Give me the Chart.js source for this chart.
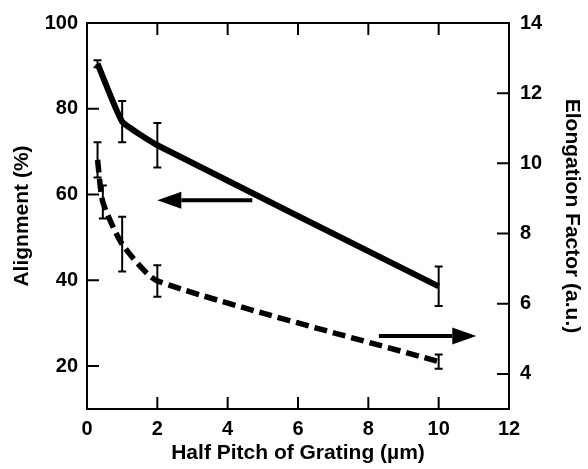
<!DOCTYPE html>
<html lang="en">
<head>
    <meta charset="UTF-8">
    <title>Alignment and Elongation vs Half Pitch</title>
    <script src="https://cdn.jsdelivr.net/npm/chart.js@4.4.1/dist/chart.umd.min.js"></script>
    <style>
        html, body { margin: 0; padding: 0; background: #fff; }
        .chart-box { width: 588px; height: 469px; position: relative; }
    </style>
</head>
<body>
    <div class="chart-box">
        <canvas id="pitchChart"></canvas>
    </div>

    <script>
        // values
        const alignPitch = [0.3, 1, 2, 10];
        const alignment = [90.5, 77, 71.5, 38.6];
        const alignmentErr = [0.8, 4.8, 5.2, 4.6];

        const elongPitch = [0.3, 0.45, 1, 2, 10];
        const elongation = [10.1, 8.9, 7.7, 6.65, 4.35];
        const elongationErr = [0.5, 0.47, 0.78, 0.45, 0.2];

        const xTicks = [0, 2, 4, 6, 8, 10, 12];
        const leftTicks = [20, 40, 60, 80, 100];
        const rightTicks = [4, 6, 8, 10, 12, 14];

        const FONT = "'Liberation Sans', Arial, Helvetica, sans-serif";

        // arrows pointing to the axis each curve belongs to (data units)
        const arrows = [
            { axis: 'y', from: [4.7, 58.7], to: [2.0, 58.7] },
            { axis: 'y2', from: [8.3, 5.08], to: [11.07, 5.08] }
        ];

        const toPoints = (xs, ys) => xs.map((x, i) => ({ x: x, y: ys[i] }));

        const figurePlugin = {
            id: 'figurePlugin',
            afterDatasetsDraw(chart) {
                const ctx = chart.ctx;
                const area = chart.chartArea;
                const sx = chart.scales.x;
                ctx.save();
                ctx.strokeStyle = '#000';
                ctx.fillStyle = '#000';

                // error bars
                const bars = [
                    { xs: alignPitch, ys: alignment, err: alignmentErr, scale: chart.scales.y },
                    { xs: elongPitch, ys: elongation, err: elongationErr, scale: chart.scales.y2 }
                ];
                ctx.lineWidth = 2;
                bars.forEach(b => {
                    b.xs.forEach((xv, i) => {
                        const px = sx.getPixelForValue(xv);
                        const top = b.scale.getPixelForValue(b.ys[i] + b.err[i]);
                        const bot = b.scale.getPixelForValue(b.ys[i] - b.err[i]);
                        ctx.beginPath();
                        ctx.moveTo(px, top); ctx.lineTo(px, bot);
                        ctx.moveTo(px - 4, top); ctx.lineTo(px + 4, top);
                        ctx.moveTo(px - 4, bot); ctx.lineTo(px + 4, bot);
                        ctx.stroke();
                    });
                });

                // arrows
                arrows.forEach(a => {
                    const sc = chart.scales[a.axis];
                    const x1 = sx.getPixelForValue(a.from[0]);
                    const x2 = sx.getPixelForValue(a.to[0]);
                    const py = sc.getPixelForValue(a.from[1]);
                    const dir = Math.sign(x2 - x1);
                    const headLen = 24;
                    ctx.lineWidth = 4;
                    ctx.beginPath();
                    ctx.moveTo(x1, py);
                    ctx.lineTo(x2 - dir * headLen, py);
                    ctx.stroke();
                    ctx.beginPath();
                    ctx.moveTo(x2, py);
                    ctx.lineTo(x2 - dir * headLen, py - 8.5);
                    ctx.lineTo(x2 - dir * headLen, py + 8.5);
                    ctx.closePath();
                    ctx.fill();
                });

                // frame
                ctx.lineWidth = 2;
                ctx.strokeRect(area.left, area.top, area.right - area.left, area.bottom - area.top);

                // inward tick marks
                const tl = 12;
                ctx.beginPath();
                xTicks.forEach(v => {
                    const px = sx.getPixelForValue(v);
                    ctx.moveTo(px, area.bottom); ctx.lineTo(px, area.bottom - tl);
                    ctx.moveTo(px, area.top); ctx.lineTo(px, area.top + tl);
                });
                leftTicks.forEach(v => {
                    const py = chart.scales.y.getPixelForValue(v);
                    ctx.moveTo(area.left, py); ctx.lineTo(area.left + tl, py);
                });
                rightTicks.forEach(v => {
                    const py = chart.scales.y2.getPixelForValue(v);
                    ctx.moveTo(area.right, py); ctx.lineTo(area.right - tl, py);
                });
                ctx.stroke();
                ctx.restore();
            }
        };

        const tickFont = { family: FONT, size: 20, weight: 'bold' };
        const titleFont = { family: FONT, size: 21, weight: 'bold' };

        new Chart(document.getElementById('pitchChart'), {
            type: 'line',
            data: {
                datasets: [
                    {
                        label: 'Alignment (%)',
                        data: toPoints(alignPitch, alignment),
                        yAxisID: 'y',
                        borderColor: '#000',
                        borderWidth: 6,
                        pointRadius: 0,
                        tension: 0.12,
                        fill: false
                    },
                    {
                        label: 'Elongation Factor (a.u.)',
                        data: toPoints(elongPitch, elongation),
                        yAxisID: 'y2',
                        borderColor: '#000',
                        borderWidth: 5.5,
                        borderDash: [13, 6],
                        borderCapStyle: 'butt',
                        pointRadius: 0,
                        tension: 0.2,
                        fill: false
                    }
                ]
            },
            options: {
                responsive: true,
                maintainAspectRatio: false,
                animation: false,
                layout: { padding: { top: 22, left: 0, right: 0, bottom: 0 } },
                plugins: {
                    legend: { display: false },
                    tooltip: { enabled: false }
                },
                scales: {
                    x: {
                        type: 'linear',
                        min: 0,
                        max: 12,
                        grid: { display: false, drawTicks: false },
                        border: { display: false },
                        afterBuildTicks: s => { s.ticks = xTicks.map(v => ({ value: v })); },
                        afterFit: s => { s.height = 60; },
                        ticks: { color: '#000', font: tickFont, padding: 8, maxRotation: 0 },
                        title: {
                            display: true,
                            text: 'Half Pitch of Grating (µm)',
                            color: '#000',
                            font: titleFont,
                            padding: { top: 0, bottom: 3 }
                        }
                    },
                    y: {
                        position: 'left',
                        min: 10,
                        max: 100,
                        grid: { display: false, drawTicks: false },
                        border: { display: false },
                        afterBuildTicks: s => { s.ticks = leftTicks.map(v => ({ value: v })); },
                        afterFit: s => { s.width = 87; },
                        ticks: { color: '#000', font: tickFont, padding: 9 },
                        title: {
                            display: true,
                            text: 'Alignment (%)',
                            color: '#000',
                            font: titleFont,
                            padding: { top: 10, bottom: 0 }
                        }
                    },
                    y2: {
                        position: 'right',
                        min: 3,
                        max: 14,
                        grid: { display: false, drawTicks: false },
                        border: { display: false },
                        afterBuildTicks: s => { s.ticks = rightTicks.map(v => ({ value: v })); },
                        afterFit: s => { s.width = 79; },
                        ticks: { color: '#000', font: tickFont, padding: 11 },
                        title: {
                            display: true,
                            text: 'Elongation Factor (a.u.)',
                            color: '#000',
                            font: titleFont,
                            padding: { top: 4, bottom: 0 }
                        }
                    }
                }
            },
            plugins: [figurePlugin]
        });
    </script>
</body>
</html>
